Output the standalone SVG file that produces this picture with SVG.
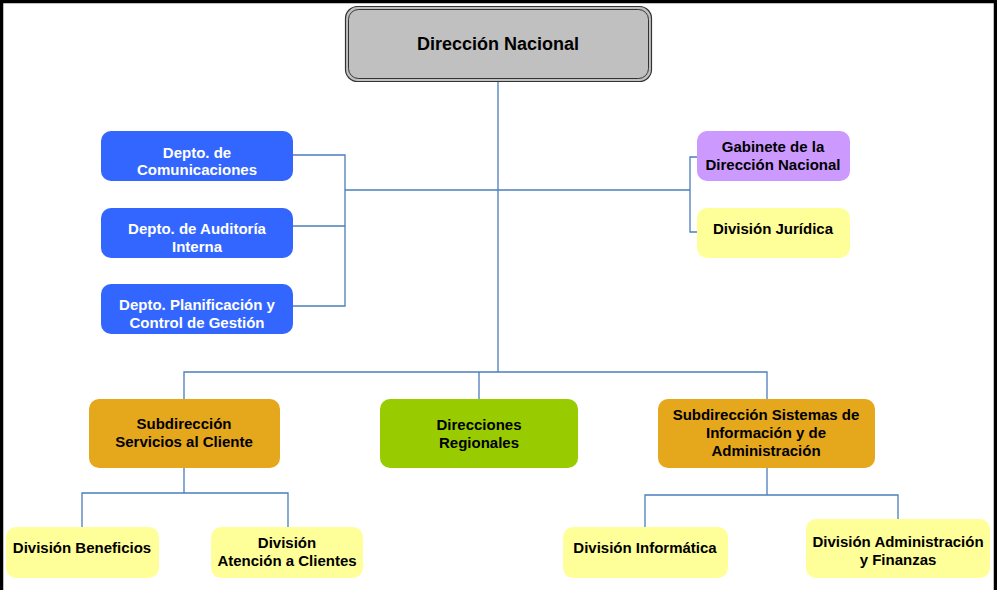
<svg xmlns="http://www.w3.org/2000/svg" width="997" height="590" viewBox="0 0 997 590">
<style>
text{font-family:"Liberation Sans",Arial,sans-serif;font-weight:bold;font-size:15px;text-anchor:middle;fill:#000}
.w{fill:#fff}
.c{fill:none;stroke:#4a7ebb;stroke-width:1.3}
.blue{fill:#3366ff}
.yel{fill:#ffff99}
.gold{fill:#e5a71c}
</style>
<rect x="0" y="0" width="997" height="590" fill="#fff"/>
<path d="M1.5 590 V1.5 H995.5 V590" fill="none" stroke="#000" stroke-width="3.5"/>
<g id="connectors">
<path class="c" d="M498 82 V372"/>
<path class="c" d="M345 190 H690"/>
<path class="c" d="M293 155 H345 V306 H293 M293 226 H345"/>
<path class="c" d="M697 157 H690 V232 H697"/>
<path class="c" d="M184 400 V372 H767 V400 M479 372 V400"/>
<path class="c" d="M184 468 V493 M82 527 V493 H288 V527"/>
<path class="c" d="M767 468 V495 M645 527 V495 H898 V519"/>
</g>
<g id="direccion-nacional">
<rect x="345.5" y="6.5" width="306" height="75" rx="12" fill="#c0c0c0" stroke="#333" stroke-width="1.2"/>
<rect x="348.5" y="9.5" width="300" height="69" rx="10" fill="none" stroke="#333" stroke-width="1"/>
<text x="498" y="50" style="font-size:18px">Dirección Nacional</text>
</g>
<g id="depto-comunicaciones">
<rect class="blue" x="101" y="131" width="192" height="50" rx="10"/>
<text class="w" x="197" y="158">Depto. de</text>
<text class="w" x="197" y="175">Comunicaciones</text>
</g>
<g id="depto-auditoria">
<rect class="blue" x="101" y="208" width="192" height="50" rx="10"/>
<text class="w" x="197" y="234">Depto. de Auditoría</text>
<text class="w" x="197" y="252">Interna</text>
</g>
<g id="depto-planificacion">
<rect class="blue" x="101" y="284" width="192" height="50" rx="10"/>
<text class="w" x="197" y="310">Depto. Planificación y</text>
<text class="w" x="197" y="328">Control de Gestión</text>
</g>
<g id="gabinete">
<rect x="697" y="131" width="153" height="50" rx="10" fill="#cc99ff"/>
<text x="773" y="152">Gabinete de la</text>
<text x="773" y="170">Dirección Nacional</text>
</g>
<g id="division-juridica">
<rect class="yel" x="697" y="208" width="153" height="50" rx="10"/>
<text x="773" y="234">División Jurídica</text>
</g>
<g id="subdireccion-servicios">
<rect class="gold" x="89" y="399" width="191" height="69" rx="10"/>
<text x="184" y="429">Subdirección</text>
<text x="184" y="447">Servicios al Cliente</text>
</g>
<g id="direcciones-regionales">
<rect x="380" y="399" width="198" height="69" rx="10" fill="#99cc00"/>
<text x="479" y="430">Direcciones</text>
<text x="479" y="448">Regionales</text>
</g>
<g id="subdireccion-sistemas">
<rect class="gold" x="658" y="399" width="217" height="69" rx="10"/>
<text x="766" y="420">Subdirección Sistemas de</text>
<text x="766" y="438">Información y de</text>
<text x="766" y="456">Administración</text>
</g>
<g id="division-beneficios">
<rect class="yel" x="6" y="527" width="153" height="51" rx="10"/>
<text x="82" y="553">División Beneficios</text>
</g>
<g id="division-atencion">
<rect class="yel" x="211" y="527" width="152" height="51" rx="10"/>
<text x="287" y="548">División</text>
<text x="287" y="566">Atención a Clientes</text>
</g>
<g id="division-informatica">
<rect class="yel" x="563" y="527" width="165" height="51" rx="10"/>
<text x="645" y="553">División Informática</text>
</g>
<g id="division-administracion">
<rect class="yel" x="806" y="519" width="184" height="59" rx="10"/>
<text x="898" y="547">División Administración</text>
<text x="898" y="565">y Finanzas</text>
</g>
</svg>
